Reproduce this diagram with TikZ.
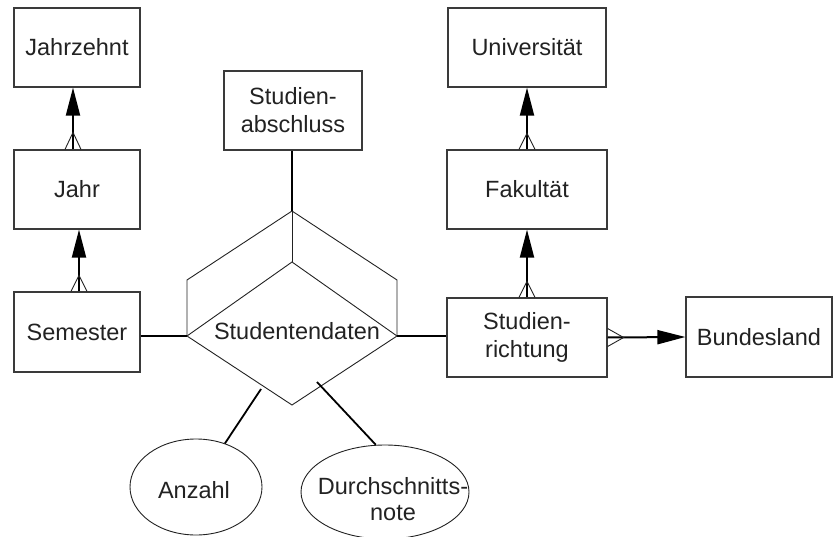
\documentclass[tikz,border=0pt]{standalone}
\usepackage{fontspec}
\setmainfont{Liberation Sans}
\usetikzlibrary{arrows.meta,shapes.geometric,calc}
\definecolor{ink}{HTML}{222222}
\definecolor{edge}{HTML}{3A3A3A}
\begin{document}
\begin{tikzpicture}[x=1pt,y=-1pt,
  every node/.style={font=\fontsize{23.5}{28}\selectfont, text=ink, align=center, inner sep=0pt},
  entity/.style={draw=edge, line width=1.2pt, rectangle, minimum height=79pt},
  attr/.style={draw=ink, line width=0.9pt, ellipse},
  conn/.style={draw=black, line width=2pt},
  thinline/.style={draw=ink, line width=0.9pt},
  tofk/.style={conn, -{Triangle[length=28pt,width=14pt]}},
  foot/.style={draw=ink, line width=0.9pt}
]
\useasboundingbox (0,0) rectangle (834,537);

% dimension entities
\node[entity, minimum width=126pt] (jz)  at (77,47.5)  {Jahrzehnt};
\node[entity, minimum width=126pt] (jr)  at (77,189.5) {Jahr};
\node[entity, minimum width=126pt, minimum height=80pt] (sem) at (77,332) {Semester};
\node[entity, minimum width=138pt] (sa)  at (293,110.5) {Studien-\\abschluss};
\node[entity, minimum width=158pt] (uni) at (527,47.5)  {Universität};
\node[entity, minimum width=160pt] (fak) at (527,189.5) {Fakultät};
\node[entity, minimum width=160pt] (sr)  at (527,337.5) {Studien-\\richtung};
\node[entity, minimum width=146pt, minimum height=80pt] (bl) at (759,337) {Bundesland};

% fact relationship drawn as a cube-like diamond
\coordinate (dl) at (187,336);
\coordinate (dr) at (397,336);
\coordinate (dt) at (292,211);
\coordinate (ft) at (292,262);
\coordinate (fb) at (292,405);
\draw[thinline] (dl) -- (187,280) -- (dt) -- (397,280) -- (dr);
\draw[thinline] (dt) -- (ft);
\draw[thinline] (dl) -- (ft) -- (dr) -- (fb) -- cycle;
\node (sd) at (297,331) {Studentendaten};

% measures
\node[attr, minimum width=132pt, minimum height=96pt] (anz) at (196,487) {};
\node at (194,490) {Anzahl};
\node[attr, minimum width=168pt, minimum height=94pt] (dn) at (385,492) {};
\node[text width=170pt, font=\fontsize{23.5}{26}\selectfont] at (393,499) {Durchschnitts-\\note};
\coordinate (ma) at (261,389);
\coordinate (md) at (317,382);
\draw[conn, line width=1.8pt] (ma) -- (anz);
\draw[conn, line width=1.8pt] (md) -- (dn.101);

% dimensions attached to the fact
\draw[conn] (dl -| sem.east) -- (dl);
\draw[conn] (sa.south -| dt) -- (dt);
\draw[conn] (dr) -- (dr -| sr.west);

% hierarchies: many-to-one roll-ups
\draw[tofk] ([xshift=-4pt]jr.north) -- ([xshift=-4pt]jz.south);
\draw[foot] ([xshift=-12pt]jr.north) -- ++(8,-17) -- ++(8,17);
\draw[tofk] ([xshift=2pt]sem.north) -- ([xshift=2pt]jr.south);
\draw[foot] ([xshift=-6pt]sem.north) -- ++(8,-16) -- ++(8,16);

\draw[tofk] (fak.north) -- (uni.south);
\draw[foot] ([xshift=-8pt]fak.north) -- ++(8,-16) -- ++(8,16);
\draw[tofk] (sr.north) -- (fak.south);
\draw[foot] ([xshift=-8pt]sr.north) -- ++(8,-16) -- ++(8,16);

\draw[tofk] (sr.east) -- (bl.west);
\draw[foot] ([yshift=9pt]sr.east) -- ++(16,9) -- ++(-16,9);
\end{tikzpicture}
\end{document}
